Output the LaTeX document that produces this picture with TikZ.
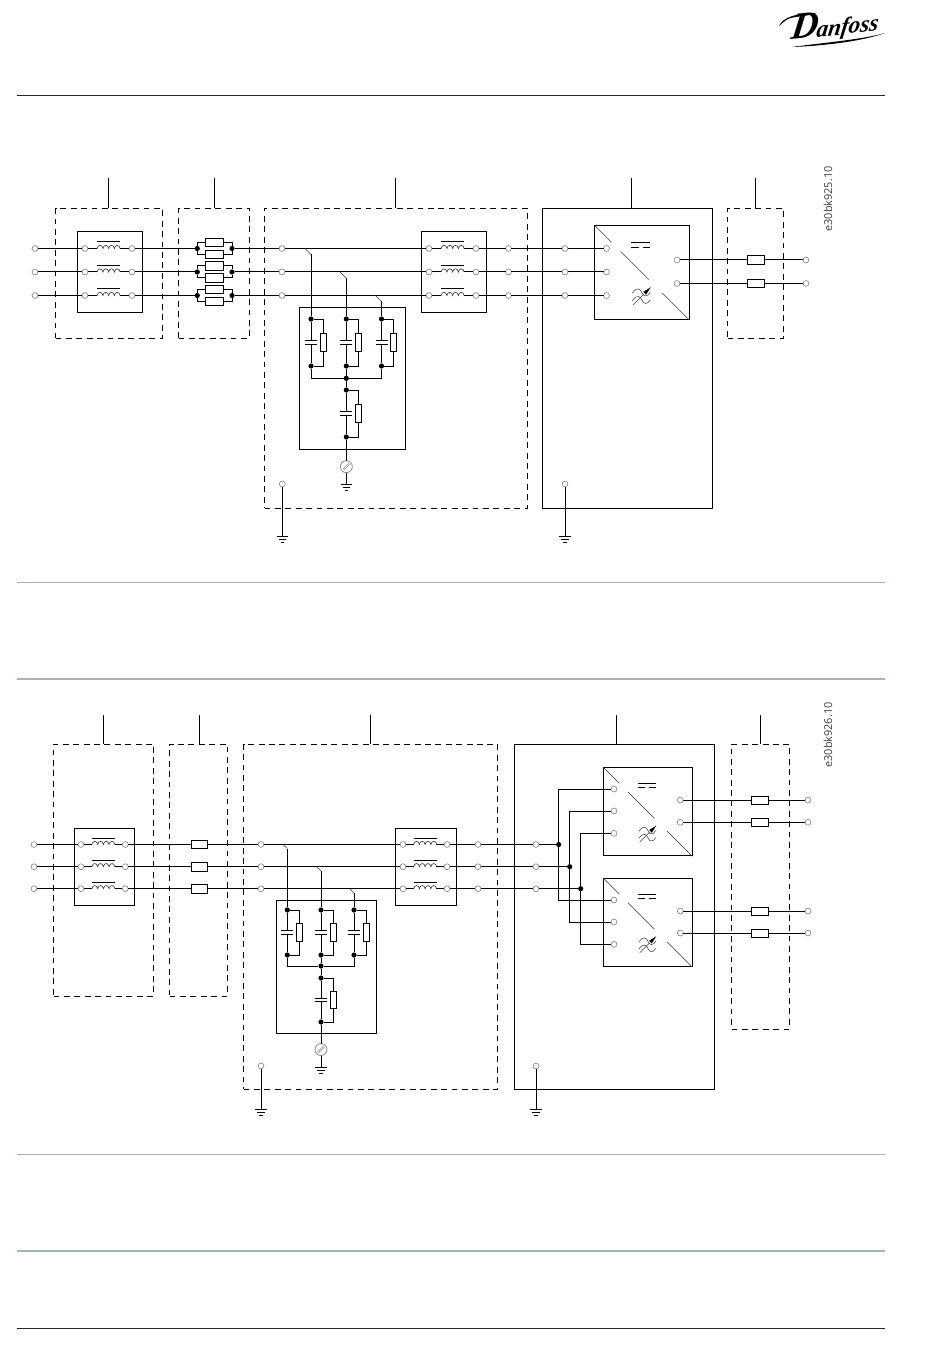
\documentclass[tikz,border=0pt]{standalone}
\usepackage{fontspec}
\setmainfont{Open Sans}
\newfontfamily\logofont{Liberation Serif}
\usetikzlibrary{arrows.meta}
\definecolor{rulecol}{HTML}{A3B3BF}
\definecolor{termcol}{HTML}{8C8C8C}
\tikzset{
 wire/.style={line width=0.75pt,black},
 thinl/.style={line width=0.4pt,black!75},
 term/.style={circle,draw=termcol,fill=white,line width=0.5pt,inner sep=0pt,minimum size=4.4pt,outer sep=0pt},
 jdot/.style={circle,fill=black,inner sep=0pt,minimum size=3.9pt,outer sep=0pt},
 solidbox/.style={draw=black,line width=0.75pt,inner sep=0pt,outer sep=0pt,anchor=north west},
 dashbox/.style={draw=black,line width=0.75pt,inner sep=0pt,outer sep=0pt,anchor=north west,dash pattern=on 4.4pt off 3.4pt},
 fusebox/.style={draw=black,line width=0.75pt,fill=white,inner sep=0pt,outer sep=0pt,minimum height=6.6pt},
 coilnode/.style={inner sep=0pt,outer sep=0pt,minimum width=17pt,minimum height=1pt},
 capnode/.style={inner sep=0pt,outer sep=0pt,minimum width=9pt,minimum height=2.4pt},
 resnode/.style={draw=black,line width=0.6pt,fill=white,inner sep=0pt,outer sep=0pt,minimum width=4.6pt,minimum height=13pt},
 screwnode/.style={circle,draw=termcol,fill=white,line width=0.6pt,inner sep=0pt,outer sep=0pt,minimum size=9pt},
 pagerule/.style={line width=0.75pt,rulecol},
 codelabel/.style={rotate=90,font=\fontsize{8.2}{8.2}\selectfont,text=black!75,inner sep=0pt}
}
% box: style, name, x1, y1, x2, y2
\newcommand\mybox[6]{%
 \pgfmathsetmacro\bw{(#5-#3)*0.75}\pgfmathsetmacro\bh{(#6-#4)*0.75}%
 \node[#1,minimum width=\bw pt,minimum height=\bh pt] (#2) at (#3,#4) {};}
% inductor: name, centre x, y
\newcommand\choke[3]{%
 \node[coilnode] (#1) at (#2,#3) {};
 \draw[line width=0.75pt] (#1.west)++(0,-6.5) -- ++(23,0);
 \draw[thinl,line width=0.5pt] (#1.west) .. controls +(0.6,-4.2) and +(-0.6,-4.2) .. ++(5.75,0)
  .. controls +(0.6,-4.2) and +(-0.6,-4.2) .. ++(5.75,0)
  .. controls +(0.6,-4.2) and +(-0.6,-4.2) .. ++(5.75,0)
  .. controls +(0.6,-4.2) and +(-0.6,-4.2) .. ++(5.75,0);}
% RC branch: prefix, x, ytop, ybot
\newcommand\rcb[4]{%
 \pgfmathsetmacro\yc{(#3+#4)/2}\pgfmathsetmacro\xr{#2+12}%
 \node[jdot] (#1t) at (#2,#3) {};
 \node[jdot] (#1b) at (#2,#4) {};
 \node[capnode] (#1c) at (#2,\yc) {};
 \node[resnode] (#1r) at (\xr,\yc) {};
 \draw[wire] (#1t) -- (#1c.north);
 \draw[wire] (#1c.south) -- (#1b);
 \draw[wire] (#1c.north west) -- (#1c.north east);
 \draw[wire] (#1c.south west) -- (#1c.south east);
 \draw[wire] (#1t) -| (#1r.north);
 \draw[wire] (#1r.south) |- (#1b);}
% ground: name, x, y
\newcommand\gnd[3]{%
 \coordinate (#1) at (#2,#3);
 \draw[wire] (#1)++(-5.7,0) -- ++(11.4,0);
 \draw[wire] (#1)++(-3.6,3) -- ++(7.2,0);
 \draw[wire] (#1)++(-1.8,6) -- ++(3.6,0);}
% screw: name, x, y
\newcommand\screw[3]{%
 \node[screwnode] (#1) at (#2,#3) {};
 \draw[line width=0.45pt,termcol] (#2-3.6,#3+2.6) -- (#2+2.6,#3-3.6);
 \draw[line width=0.45pt,termcol] (#2-2.6,#3+3.6) -- (#2+3.6,#3-2.6);}
% converter symbols: x1, y1, size
\newcommand\convsym[3]{%
 \begin{scope}[shift={(#1,#2)},xscale=#3,yscale=#3]
 \draw[thinl] (0,0) -- (.18,.18);
 \draw[thinl] (.277,.277) -- (.575,.575);
 \draw[thinl] (.716,.716) -- (1,1);
 \draw[line width=0.6pt] (.39,.183) -- (.59,.183);
 \draw[line width=0.6pt] (.39,.23) -- (.47,.23);
 \draw[line width=0.6pt] (.51,.23) -- (.59,.23);
 \draw[thinl] (.40,.72) .. controls (.45,.64) and (.49,.68) .. (.50,.71) .. controls (.52,.76) and (.56,.76) .. (.59,.71);
 \draw[thinl] (.40,.80) .. controls (.45,.72) and (.49,.76) .. (.50,.79) .. controls (.52,.84) and (.56,.84) .. (.59,.79);
 \draw[thinl] (.41,.84) -- (.52,.73);
 \fill (.595,.655) -- (.515,.705) -- (.545,.735) -- cycle;
 \end{scope}}
\begin{document}
\begin{tikzpicture}[x=0.75pt,y=-0.75pt]
\useasboundingbox (0,0) rectangle (950,1369);
% ---- page furniture
\coordinate (r1a) at (17,95); \coordinate (r1b) at (885,95);
\draw[line width=0.6pt,black!85] (r1a) -- (r1b);
\coordinate (r2a) at (17,582.5); \coordinate (r2b) at (885,582.5);
\draw[pagerule] (r2a) -- (r2b);
\coordinate (r3a) at (17,679); \coordinate (r3b) at (885,679);
\draw[pagerule,line width=1pt] (r3a) -- (r3b);
\coordinate (r4a) at (17,1154.5); \coordinate (r4b) at (885,1154.5);
\draw[pagerule] (r4a) -- (r4b);
\coordinate (r5a) at (17,1251); \coordinate (r5b) at (885,1251);
\draw[pagerule,line width=1pt] (r5a) -- (r5b);
\coordinate (r6a) at (17,1328.5); \coordinate (r6b) at (885,1328.5);
\draw[line width=0.6pt,black!85] (r6a) -- (r6b);
% logo
\node[inner sep=0pt,anchor=base west,transform shape,rotate=6,xslant=0.25] (logo) at (790,40) {\logofont\bfseries\itshape\fontsize{28}{28}\selectfont D\hspace{-1pt}\fontsize{17.5}{17.5}\selectfont anfoss};
\fill (779,26) .. controls (783,17) and (797,13) .. (817,13) .. controls (805,17) and (795,16) .. (788,19) .. controls (784,21) and (782,24) .. (779,26) -- cycle;
\fill (792,47) .. controls (820,43) and (860,40) .. (885,33) .. controls (860,42) and (820,46) .. (792,47) -- cycle;
% codes
\node[codelabel] (code1) at (828,199) {e30bk925.10};
\node[codelabel] (code2) at (828,735) {e30bk926.10};
% ======== diagram 1
\mybox{dashbox}{A}{55.5}{208.5}{162.5}{338}
\mybox{dashbox}{B}{178.5}{208.5}{249.5}{338}
\mybox{dashbox}{C}{264.5}{208.5}{527}{508}
\mybox{solidbox}{D}{542.5}{208.5}{712.5}{508.5}
\mybox{dashbox}{E}{727.5}{208.5}{783.5}{338}
\coordinate (la) at (108.5,178); \coordinate (lb) at (214,178); \coordinate (lc) at (395.5,178); \coordinate (ld) at (631,178); \coordinate (le) at (755.5,178);
\draw[wire] (la) -- (la |- A.north);
\draw[wire] (lb) -- (lb |- B.north);
\draw[wire] (lc) -- (lc |- C.north);
\draw[wire] (ld) -- (ld |- D.north);
\draw[wire] (le) -- (le |- E.north);
\mybox{solidbox}{F1}{77.5}{231.5}{142.5}{313}
\mybox{solidbox}{F2}{421.5}{231.5}{486.5}{313}
\mybox{solidbox}{Q}{594.5}{225.3}{689.5}{319.5}
\mybox{solidbox}{RC}{299.7}{307.3}{405.3}{449.3}
\foreach \r/\y in {1/248.5,2/272,3/295.5}{
 \pgfmathsetmacro\yu{\y-6}\pgfmathsetmacro\yl{\y+6}
 \node[term] (i\r) at (35,\y) {};
 \node[term] (fa\r) at (85,\y) {};
 \choke{ca\r}{108.5}{\y}
 \node[term] (fb\r) at (132,\y) {};
 \node[jdot] (dl\r) at (197.3,\y) {};
 \node[jdot] (dr\r) at (232,\y) {};
 \node[fusebox,minimum width=13.5pt] (fu\r) at (214.5,\yu) {};
 \node[fusebox,minimum width=13.5pt] (fl\r) at (214.5,\yl) {};
 \node[term] (g\r) at (282,\y) {};
 \node[term] (h\r) at (429,\y) {};
 \choke{cb\r}{452.5}{\y}
 \node[term] (k\r) at (476,\y) {};
 \node[term] (m\r) at (508.5,\y) {};
 \node[term] (n\r) at (565,\y) {};
 \node[term] (p\r) at (606.5,\y) {};
 \draw[wire] (i\r) -- (fa\r);
 \draw[wire] (fa\r) -- (ca\r.west);
 \draw[wire] (ca\r.east) -- (fb\r);
 \draw[wire] (fb\r) -- (dl\r);
 \draw[wire] (dl\r) |- (fu\r.west);
 \draw[wire] (fu\r.east) -| (dr\r);
 \draw[wire] (dl\r) |- (fl\r.west);
 \draw[wire] (fl\r.east) -| (dr\r);
 \draw[wire] (dr\r) -- (g\r);
 \draw[wire] (g\r) -- (h\r);
 \draw[wire] (h\r) -- (cb\r.west);
 \draw[wire] (cb\r.east) -- (k\r);
 \draw[wire] (k\r) -- (m\r);
 \draw[wire] (m\r) -- (n\r);
 \draw[wire] (n\r) -- (p\r);
}
% outputs
\foreach \r/\y in {1/260,2/283.5}{
 \node[term] (oa\r) at (677,\y) {};
 \node[fusebox,minimum width=13pt] (ofu\r) at (755.7,\y) {};
 \node[term] (ob\r) at (806,\y) {};
 \draw[wire] (oa\r) -- (ofu\r.west);
 \draw[wire] (ofu\r.east) -- (ob\r);
}
\convsym{594.5}{225.3}{94.5}
% RC network
\rcb{xa}{311}{319}{366}
\rcb{xb}{346.3}{319}{366}
\rcb{xc}{381.5}{319}{366}
\node[jdot] (bus) at (346.3,378.3) {};
\rcb{xd}{346.3}{390}{437}
\draw[wire] (xab) |- (bus);
\draw[wire] (xcb) |- (bus);
\draw[wire] (xbb) -- (bus);
\draw[wire] (bus) -- (xdt);
\coordinate (ts1) at (305,248.5); \coordinate (tk1) at (311,254.5);
\coordinate (ts2) at (340,272); \coordinate (tk2) at (346.3,278);
\coordinate (ts3) at (375.5,295.5); \coordinate (tk3) at (381.5,301.5);
\draw[thinl] (ts1) -- (tk1); \draw[wire] (tk1) -- (xat);
\draw[thinl] (ts2) -- (tk2); \draw[wire] (tk2) -- (xbt);
\draw[thinl] (ts3) -- (tk3); \draw[wire] (tk3) -- (xct);
\screw{sc}{346.3}{466.7}
\gnd{gs}{346.3}{484}
\draw[wire] (xdb) -- (sc);
\draw[wire] (sc) -- (gs);
\node[term] (pe1) at (282.3,484) {};
\gnd{g1}{282.3}{536}
\draw[wire] (pe1) -- (g1);
\node[term] (pe2) at (565,484) {};
\gnd{g2}{565}{536}
\draw[wire] (pe2) -- (g2);
% ======== diagram 2
\mybox{dashbox}{A2}{53.5}{744}{153.5}{996}
\mybox{dashbox}{B2}{169.5}{744}{227.5}{996}
\mybox{dashbox}{C2}{243.5}{744}{497.5}{1089}
\mybox{solidbox}{D2}{514.5}{744}{714.5}{1089}
\mybox{dashbox}{E2}{731.5}{744}{789.5}{1029}
\coordinate (la2) at (103.5,715); \coordinate (lb2) at (199,715); \coordinate (lc2) at (370.5,715); \coordinate (ld2) at (616.5,715); \coordinate (le2) at (760.5,715);
\draw[wire] (la2) -- (la2 |- A2.north);
\draw[wire] (lb2) -- (lb2 |- B2.north);
\draw[wire] (lc2) -- (lc2 |- C2.north);
\draw[wire] (ld2) -- (ld2 |- D2.north);
\draw[wire] (le2) -- (le2 |- E2.north);
\mybox{solidbox}{G1}{74.5}{828.3}{134.5}{905.3}
\mybox{solidbox}{G2}{395.5}{828.3}{456.5}{905.3}
\mybox{solidbox}{Q1}{603.3}{767.3}{692.3}{855.3}
\mybox{solidbox}{Q2}{603.3}{878}{692.3}{966.5}
\mybox{solidbox}{RC2}{276.5}{900.5}{376.5}{1033}
\foreach \r/\y/\jx in {1/844.5/558.7,2/866.7/569.7,3/888.7/580.7}{
 \node[term] (ii\r) at (34,\y) {};
 \node[term] (ja\r) at (81,\y) {};
 \choke{da\r}{103.2}{\y}
 \node[term] (jb\r) at (125.3,\y) {};
 \node[fusebox,minimum width=12.5pt] (fz\r) at (199.5,\y) {};
 \node[term] (jg\r) at (261,\y) {};
 \node[term] (jh\r) at (403,\y) {};
 \choke{db\r}{425}{\y}
 \node[term] (jk\r) at (447,\y) {};
 \node[term] (jm\r) at (478,\y) {};
 \node[term] (jn\r) at (536,\y) {};
 \node[jdot] (jj\r) at (\jx,\y) {};
 \draw[wire] (ii\r) -- (ja\r);
 \draw[wire] (ja\r) -- (da\r.west);
 \draw[wire] (da\r.east) -- (jb\r);
 \draw[wire] (jb\r) -- (fz\r.west);
 \draw[wire] (fz\r.east) -- (jg\r);
 \draw[wire] (jg\r) -- (jh\r);
 \draw[wire] (jh\r) -- (db\r.west);
 \draw[wire] (db\r.east) -- (jk\r);
 \draw[wire] (jk\r) -- (jm\r);
 \draw[wire] (jm\r) -- (jn\r);
 \draw[wire] (jn\r) -- (jj\r);
}
% converter inputs
\foreach \r/\ya/\yb in {1/789/900,2/811/922,3/833.3/944.3}{
 \node[term] (qa\r) at (614,\ya) {};
 \node[term] (qb\r) at (614,\yb) {};
 \draw[wire] (jj\r) |- (qa\r);
 \draw[wire] (jj\r) |- (qb\r);
}
% converter outputs
\foreach \r/\y in {1/800,2/822.3,3/911,4/933}{
 \node[term] (ua\r) at (680.3,\y) {};
 \node[fusebox,minimum width=12.7pt,minimum height=6pt] (ufu\r) at (759.8,\y) {};
 \node[term] (ub\r) at (808,\y) {};
 \draw[wire] (ua\r) -- (ufu\r.west);
 \draw[wire] (ufu\r.east) -- (ub\r);
}
\convsym{603.3}{767.3}{89}
\convsym{603.3}{878}{89}
% RC network 2
\rcb{ya}{287.3}{910}{955}
\rcb{yb}{321}{910}{955}
\rcb{yc}{354}{910}{955}
\node[jdot] (bus2) at (321,966) {};
\rcb{yd}{321}{978}{1022}
\draw[wire] (yab) |- (bus2);
\draw[wire] (ycb) |- (bus2);
\draw[wire] (ybb) -- (bus2);
\draw[wire] (bus2) -- (ydt);
\coordinate (us1) at (283,844.5); \coordinate (uk1) at (287.3,848.5);
\coordinate (us2) at (316.5,866.7); \coordinate (uk2) at (321,871);
\coordinate (us3) at (349.5,888.7); \coordinate (uk3) at (354,893);
\draw[thinl] (us1) -- (uk1); \draw[wire] (uk1) -- (yat);
\draw[thinl] (us2) -- (uk2); \draw[wire] (uk2) -- (ybt);
\draw[thinl] (us3) -- (uk3); \draw[wire] (uk3) -- (yct);
\screw{sc2}{321}{1049.5}
\gnd{gs2}{321}{1067}
\draw[wire] (ydb) -- (sc2);
\draw[wire] (sc2) -- (gs2);
\node[term] (pe3) at (261,1066) {};
\gnd{g3}{261}{1109}
\draw[wire] (pe3) -- (g3);
\node[term] (pe4) at (536,1066) {};
\gnd{g4}{536}{1109}
\draw[wire] (pe4) -- (g4);
\end{tikzpicture}
\end{document}
